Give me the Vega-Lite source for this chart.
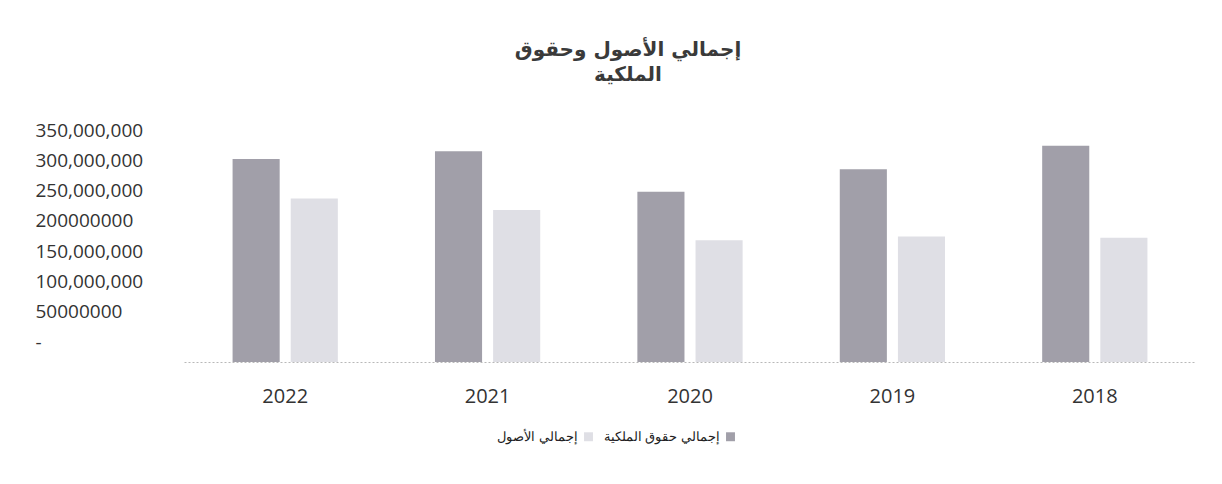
{
  "$schema": "https://vega.github.io/schema/vega-lite/v6.json",
  "autosize": "none",
  "width": 1012,
  "height": 232,
  "padding": {"left": 184, "top": 130, "right": 26, "bottom": 122},
  "background": "white",
  "config": {"view": {"stroke": null}},
  "title": {
    "text": ["إجمالي الأصول وحقوق", "الملكية"],
    "font": "DejaVu Sans",
    "fontSize": 20,
    "fontWeight": "bold",
    "color": "#3a3a3a",
    "anchor": "middle",
    "frame": "group",
    "dx": -62,
    "offset": 36,
    "lineHeight": 25
  },
  "data": {
    "values": [
      {"year": "2022", "series": "إجمالي حقوق الملكية", "value": 302000000},
      {"year": "2022", "series": "إجمالي الأصول", "value": 237000000},
      {"year": "2021", "series": "إجمالي حقوق الملكية", "value": 315000000},
      {"year": "2021", "series": "إجمالي الأصول", "value": 218000000},
      {"year": "2020", "series": "إجمالي حقوق الملكية", "value": 248000000},
      {"year": "2020", "series": "إجمالي الأصول", "value": 168000000},
      {"year": "2019", "series": "إجمالي حقوق الملكية", "value": 285000000},
      {"year": "2019", "series": "إجمالي الأصول", "value": 174000000},
      {"year": "2018", "series": "إجمالي حقوق الملكية", "value": 324000000},
      {"year": "2018", "series": "إجمالي الأصول", "value": 172000000}
    ]
  },
  "mark": {"type": "bar"},
  "encoding": {
    "x": {
      "field": "year",
      "type": "nominal",
      "sort": ["2022", "2021", "2020", "2019", "2018"],
      "scale": {"paddingInner": 0.48, "paddingOuter": 0.24},
      "axis": {
        "title": null,
        "labelAngle": 0,
        "labelFont": "Open Sans",
        "labelFontSize": 20,
        "labelColor": "#333333",
        "labelPadding": 24,
        "ticks": false,
        "domainColor": "#b8b8b8",
        "domainDash": [2, 2],
        "domainWidth": 1
      }
    },
    "xOffset": {
      "field": "series",
      "type": "nominal",
      "scale": {"domain": ["إجمالي حقوق الملكية", "إجمالي الأصول"], "paddingInner": 0.19, "paddingOuter": 0}
    },
    "y": {
      "field": "value",
      "type": "quantitative",
      "scale": {"domain": [-33000000, 350000000], "nice": false, "zero": false},
      "axis": {
        "title": null,
        "values": [0, 50000000, 100000000, 150000000, 200000000, 250000000, 300000000, 350000000],
        "labelExpr": "datum.value == 0 ? '-' : (datum.value == 200000000 || datum.value == 50000000) ? format(datum.value, 'd') : format(datum.value, ',')",
        "labelAlign": "left",
        "labelPadding": 149,
        "labelFont": "Open Sans",
        "labelFontSize": 19,
        "labelColor": "#333333",
        "ticks": false,
        "domain": false,
        "grid": false
      }
    },
    "y2": {"datum": -33000000},
    "color": {
      "field": "series",
      "type": "nominal",
      "scale": {
        "domain": ["إجمالي الأصول", "إجمالي حقوق الملكية"],
        "range": ["#dfdfe5", "#a19fa9"]
      },
      "legend": {
        "title": null,
        "orient": "none",
        "direction": "horizontal",
        "legendX": 398,
        "legendY": 300,
        "symbolType": "square",
        "symbolSize": 80,
        "symbolStrokeWidth": 0,
        "labelAlign": "right",
        "labelOffset": -17,
        "labelFont": "Liberation Sans",
        "labelFontSize": 13,
        "labelColor": "#222222",
        "columnPadding": 10
      }
    }
  }
}
